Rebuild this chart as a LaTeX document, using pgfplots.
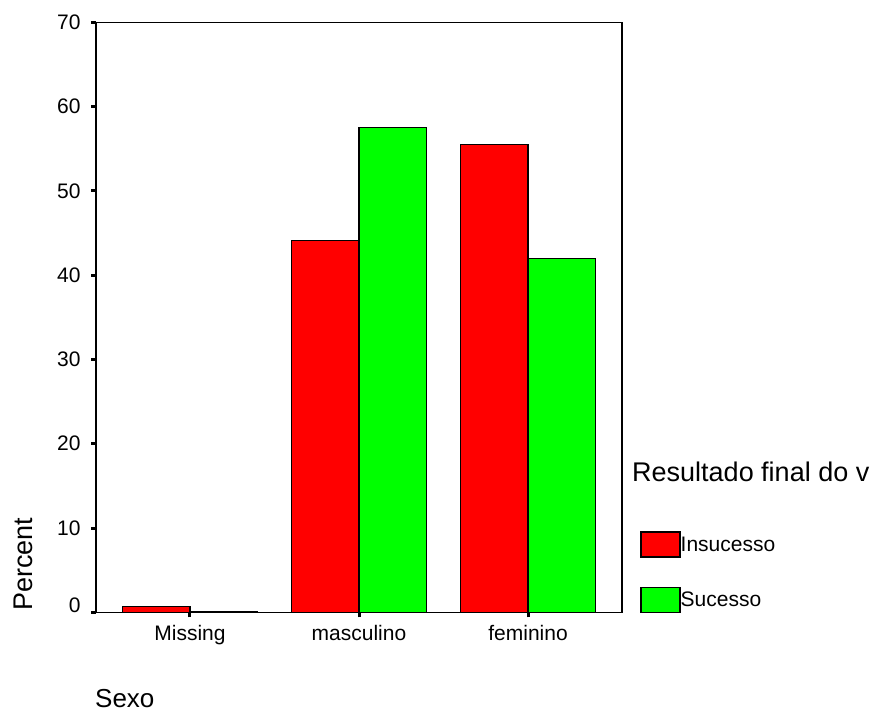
\documentclass[border=0pt]{standalone}
\usepackage{pgfplots}
\pgfplotsset{compat=1.18}
\usepackage{fontspec}
\setmainfont{Liberation Sans}
\definecolor{sred}{RGB}{255,0,0}
\definecolor{sgreen}{RGB}{0,255,0}
\begin{document}
\begin{tikzpicture}[x=1bp,y=1bp]
\path[use as bounding box] (0,0) rectangle (883,713);
\begin{axis}[
  at={(96bp,100.7bp)}, anchor=south west,
  scale only axis, width=526bp, height=590bp,
  ybar=0pt, bar width=0.4,
  xmin=-0.556, xmax=2.556,
  ymin=0, ymax=70,
  xtick={0,1,2},
  xticklabels={Missing,masculino,feminino},
  ytick={0,10,20,30,40,50,60,70},
  yticklabels={\raisebox{14bp}{0},10,20,30,40,50,60,70},
  xtick pos=lower, ytick pos=left,
  tick align=outside,
  major tick length=5bp,
  tick style={black, line width=3bp},
  axis line style={black, line width=1.5bp},
  /pgf/number format/assume math mode=true,
  ticklabel style={font=\fontsize{21bp}{24bp}\selectfont},
  yticklabel style={xshift=-7bp},
  xticklabel style={yshift=-4bp},
  legend style={at={(1.0285,0.1410)}, anchor=north west, draw=none, fill=none,
    row sep=29bp, font=\fontsize{21bp}{24bp}\selectfont,
    nodes={inner sep=0pt}},
  legend cell align=left,
  legend image code/.code={\draw[#1, line width=1.5bp] (-3bp,-12.5bp) rectangle (36bp,12.5bp);},
  clip=false,
]
\addplot[fill=sred, draw=black, line width=1.5bp] coordinates {(0,0.7) (1,44.1) (2,55.5)};
\addplot[fill=sgreen, draw=black, line width=1.5bp] coordinates {(0,0.12) (1,57.5) (2,41.95)};
\legend{Insucesso,Sucesso}
\end{axis}
\node[anchor=west, rotate=90, inner sep=0pt, font=\fontsize{27bp}{30bp}\selectfont] at (23,102) {Percent};
\node[anchor=west, inner sep=0pt, font=\fontsize{26bp}{30bp}\selectfont] at (95,14) {Sexo};
\node[anchor=base west, inner sep=0pt, font=\fontsize{27bp}{30bp}\selectfont] at (632,231) {Resultado final do v};
\end{tikzpicture}
\end{document}
